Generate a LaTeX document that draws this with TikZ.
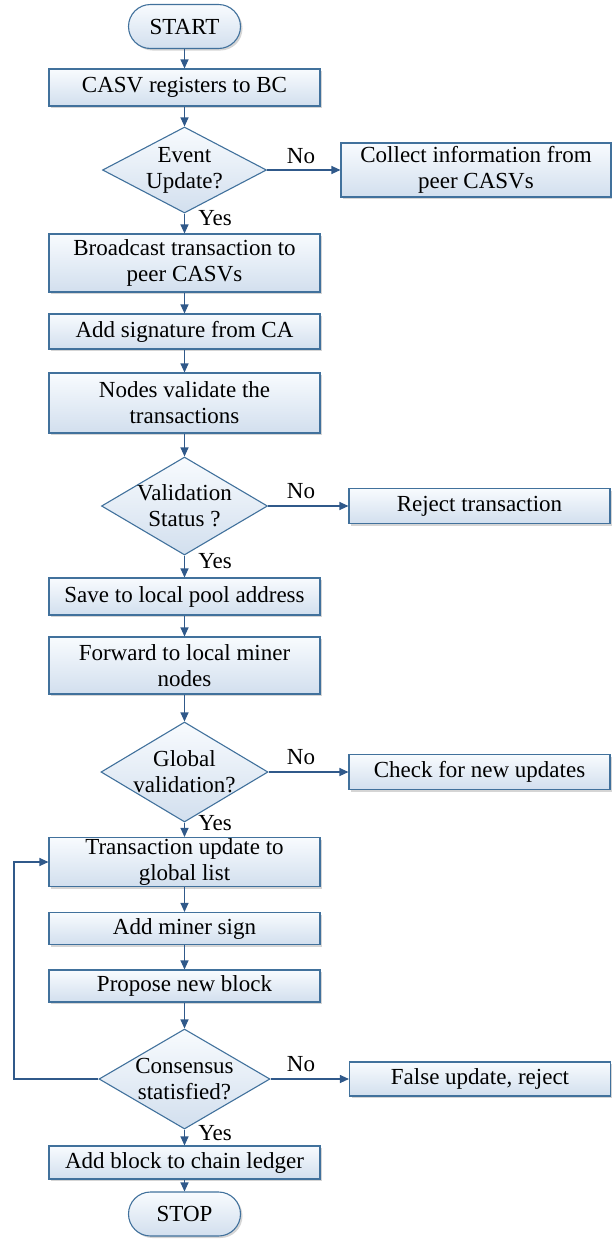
\documentclass[tikz,border=0pt]{standalone}
\usepackage{fontspec}
\setmainfont{Liberation Serif}
\usetikzlibrary{shapes.geometric,arrows.meta,shadows,calc}

\definecolor{edge}{HTML}{41719C}
\definecolor{arrowc}{HTML}{30598A}
\definecolor{filltop}{HTML}{F8FBFE}
\definecolor{fillbot}{HTML}{D2DFEE}

\begin{document}
\begin{tikzpicture}[x=1pt,y=-1pt,
  every node/.style={font=\fontsize{23}{26}\selectfont},
  softshadow/.style={drop shadow={shadow xshift=2pt,shadow yshift=-2pt,fill=black!30,opacity=0.55}},
  procbox/.style={rectangle,draw=edge,line width=1.1pt,top color=filltop,bottom color=fillbot,
    minimum width=271,inner sep=0pt,align=center,softshadow},
  sidebox/.style={procbox,minimum width=261},
  terminal/.style={rectangle,rounded corners=22pt,draw=edge,line width=1.1pt,top color=filltop,
    bottom color=fillbot,minimum width=112,minimum height=44,inner sep=0pt,softshadow},
  decision/.style={diamond,draw=edge,line width=1.1pt,top color=filltop,bottom color=fillbot,
    inner sep=0pt},
  flow/.style={draw=arrowc,line width=1.1pt,-{Triangle[length=9pt,width=8pt]}},
  lbl/.style={inner sep=0pt}
]
\useasboundingbox (0,0) rectangle (612,1240);

% main column
\node[terminal] (start) at (184.5,26.5) {START};
\node[procbox,minimum height=37] (reg) at (184.5,87.5) {CASV registers to BC};
\node[decision,minimum width=164,minimum height=86,
  label={[align=center]center:Event\\Update?}] (evt) at (184.5,170) {};
\node[procbox,minimum height=58] (bcast) at (184.5,263) {Broadcast transaction to\\peer CASVs};
\node[procbox,minimum height=35] (sig) at (184.5,331.5) {Add signature from CA};
\node[procbox,minimum height=60] (valid) at (184.5,403) {Nodes validate the\\transactions};
\node[decision,minimum width=166,minimum height=98,
  label={[align=center]center:Validation\\Status ?}] (vstat) at (184.5,506) {};
\node[procbox,minimum height=37] (save) at (184.5,596.5) {Save to local pool address};
\node[procbox,minimum height=57] (fwd) at (184.5,665.5) {Forward to local miner\\nodes};
\node[decision,minimum width=167,minimum height=100,
  label={[align=center]center:Global\\validation?}] (gval) at (184.5,772) {};
\node[procbox,minimum height=49] (tupd) at (184.5,862) {Transaction update to\\global list};
\node[procbox,minimum height=32] (msign) at (184.5,928.5) {Add miner sign};
\node[procbox,minimum height=32] (prop) at (184.5,986) {Propose new block};
\node[decision,minimum width=171,minimum height=100,
  label={[align=center]center:Consensus\\statisfied?}] (cons) at (184.5,1079) {};
\node[procbox,minimum height=33] (addblk) at (184.5,1162.5) {Add block to chain ledger};
\node[terminal] (stop) at (184.5,1214) {STOP};

% side branches
\node[procbox,minimum width=270,minimum height=54] (collect) at (476,170) {Collect information from\\peer CASVs};
\node[sidebox,minimum height=35] (reject) at (479.5,506) {Reject transaction};
\node[sidebox,minimum height=35] (check) at (479.5,772) {Check for new updates};
\node[sidebox,minimum height=34] (false) at (480,1079) {False update, reject};

% main flow
\draw[flow] (start) -- (reg);
\draw[flow] (reg) -- (evt);
\draw[flow] (evt) -- (bcast);
\draw[flow] (bcast) -- (sig);
\draw[flow] (sig) -- (valid);
\draw[flow] (valid) -- (vstat);
\draw[flow] (vstat) -- (save);
\draw[flow] (save) -- (fwd);
\draw[flow] (fwd) -- (gval);
\draw[flow] (gval) -- (tupd);
\draw[flow] (tupd) -- (msign);
\draw[flow] (msign) -- (prop);
\draw[flow] (prop) -- (cons);
\draw[flow] (cons) -- (addblk);
\draw[flow] (addblk) -- (stop);

% "No" branches
\draw[flow] (evt.east) -- (collect.west);
\draw[flow] (vstat.east) -- (reject.west);
\draw[flow] (gval.east) -- (check.west);
\draw[flow] (cons.east) -- (false.west);

% loop back when consensus fails
\coordinate (loop) at (14,1079);
\draw[flow] (cons.west) -- (loop) |- (tupd.west);

% branch labels
\node[lbl] at (301,156) {No};
\node[lbl] at (301,491) {No};
\node[lbl] at (301,757) {No};
\node[lbl] at (301,1064) {No};
\node[lbl] at ($(evt.south)+(30.5,5)$) {Yes};
\node[lbl] at ($(vstat.south)+(30.5,6)$) {Yes};
\node[lbl] at ($(gval.south)+(30.5,1)$) {Yes};
\node[lbl] at ($(cons.south)+(30.5,4)$) {Yes};
\end{tikzpicture}
\end{document}
